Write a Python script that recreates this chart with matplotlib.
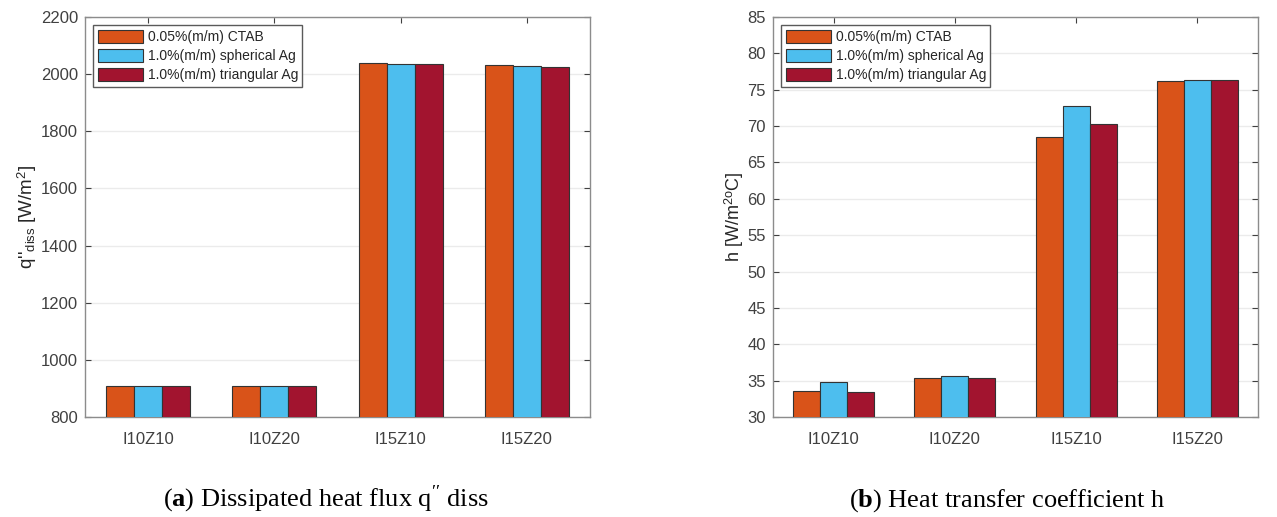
import numpy as np
import matplotlib.pyplot as plt

plt.rcParams['font.family'] = ['Liberation Sans', 'DejaVu Sans']
plt.rcParams['mathtext.fontset'] = 'custom'
plt.rcParams['mathtext.rm'] = 'Liberation Serif'
plt.rcParams['mathtext.bf'] = 'Liberation Serif:bold'
plt.rcParams['mathtext.it'] = 'Liberation Serif:italic'
plt.rcParams['mathtext.sf'] = 'Liberation Sans'

cases = ["I10Z10", "I10Z20", "I15Z10", "I15Z20"]
series = ["0.05%(m/m) CTAB", "1.0%(m/m) spherical Ag", "1.0%(m/m) triangular Ag"]
colors = ["#D95319", "#4DBEEE", "#A2142F"]

# dissipated heat flux [W/m2]
q_ctab = [908, 907, 2040, 2031]
q_sph = [909, 907, 2035, 2030]
q_tri = [910, 907, 2037, 2026]

# heat transfer coefficient [W/m2 C]
h_ctab = [33.6, 35.3, 68.5, 76.2]
h_sph = [34.8, 35.7, 72.7, 76.4]
h_tri = [33.4, 35.3, 70.3, 76.3]

fig = plt.figure(figsize=(12.77, 5.17), dpi=100)
ax1 = fig.add_axes([85/1277, 100/517, 505/1277, 400/517])
ax2 = fig.add_axes([773/1277, 100/517, 485/1277, 400/517])

x = np.arange(1, len(cases) + 1)
w = 0.222


def grouped(ax, data, ylim, yticks, ylabel, lsize):
    for i, (vals, lab, c) in enumerate(zip(data, series, colors)):
        ax.bar(x + (i - 1) * w, vals, w, color=c, edgecolor="#333333",
               linewidth=0.8, label=lab, zorder=3)
    ax.set_xlim(0.5, 4.5)
    ax.set_ylim(*ylim)
    ax.set_yticks(yticks)
    ax.set_xticks(x)
    ax.set_xticklabels(cases)
    ax.yaxis.grid(True, color="#ebebeb", linewidth=1.0, zorder=0)
    ax.set_axisbelow(True)
    ax.tick_params(direction="in", top=True, right=True, length=4,
                   labelsize=12, colors="#404040", pad=5)
    ax.tick_params(axis="x", pad=11)
    for s in ax.spines.values():
        s.set_color("#8c8c8c")
        s.set_linewidth(1.0)
    ax.set_ylabel(ylabel, fontsize=lsize, color="#262626", labelpad=1)
    leg = ax.legend(loc="upper left", fontsize=10, handlelength=3.3,
                    handleheight=1.1, borderpad=0.3, labelspacing=0.35,
                    handletextpad=0.3, borderaxespad=0.6, fancybox=False,
                    framealpha=1)
    leg.get_frame().set_edgecolor("#5a5a5a")
    leg.get_frame().set_linewidth(1.0)
    for t in leg.get_texts():
        t.set_color("#262626")


grouped(ax1, [q_ctab, q_sph, q_tri], (800, 2200), np.arange(800, 2201, 200),
        r"q''$_\mathsf{diss}$ [W/m$^\mathsf{2}$]", 13.5)
grouped(ax2, [h_ctab, h_sph, h_tri], (30, 85), np.arange(30, 86, 5),
        r"h [W/m$^\mathsf{2o}$C]", 13)

fig.text(326/1277, 0.02, r"($\mathbf{a}$) Dissipated heat flux q$^{\prime\prime}$ diss",
         ha="center", va="baseline", fontsize=19, family="Liberation Serif")
fig.text(1007/1277, 0.02, r"($\mathbf{b}$) Heat transfer coefficient h",
         ha="center", va="baseline", fontsize=19, family="Liberation Serif")

fig.savefig("out.png", dpi=100)
